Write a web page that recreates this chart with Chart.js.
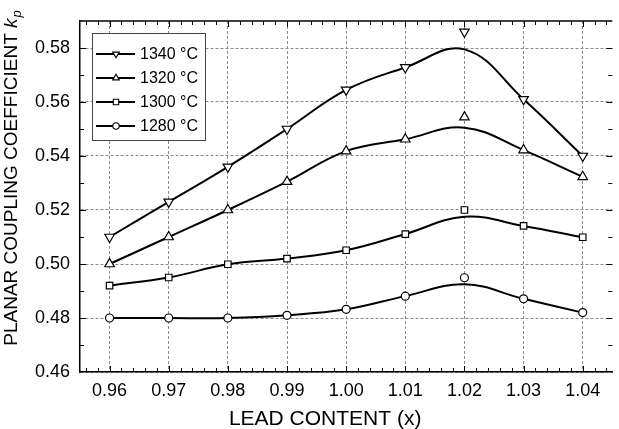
<!DOCTYPE html>
<html>
<head>
<meta charset="utf-8">
<script src="https://cdn.jsdelivr.net/npm/chart.js@4.4.1/dist/chart.umd.min.js"></script>
<style>
  html, body { margin: 0; padding: 0; background: #fff; }
  #wrap { width: 619px; height: 429px; }
</style>
</head>
<body>
<div id="wrap"><canvas id="graficoKp" width="619" height="429"></canvas></div>
<script>
// valores
var leadContent = [0.96, 0.97, 0.98, 0.99, 1.00, 1.01, 1.02, 1.03, 1.04];
var kp1340 = [0.510, 0.523, 0.536, 0.550, 0.5645, 0.5728, 0.586, 0.561, 0.540];
var kp1320 = [0.500, 0.510, 0.520, 0.5305, 0.5418, 0.5462, 0.5544, 0.5422, 0.5323];
var kp1300 = [0.492, 0.495, 0.4999, 0.502, 0.5051, 0.5111, 0.520, 0.5141, 0.5099];
var kp1280 = [0.480, 0.480, 0.480, 0.481, 0.4832, 0.4881, 0.4949, 0.4871, 0.482];

// curvas ajustadas (passam pelos pontos, exceto no pico)
var fit1340 = [0.510, 0.523, 0.536, 0.550, 0.5645, 0.5728, 0.5795, 0.561, 0.540];
var fit1320 = [0.500, 0.510, 0.520, 0.5305, 0.5418, 0.5462, 0.5505, 0.5422, 0.5323];
var fit1300 = [0.492, 0.495, 0.4999, 0.502, 0.5051, 0.5111, 0.5175, 0.5141, 0.5099];
var fit1280 = [0.480, 0.480, 0.480, 0.481, 0.4832, 0.4881, 0.4925, 0.4871, 0.482];

var seriesLabels = ['1340 \u00B0C', '1320 \u00B0C', '1300 \u00B0C', '1280 \u00B0C'];
var xTicks = [0.96, 0.97, 0.98, 0.99, 1.00, 1.01, 1.02, 1.03, 1.04];
var yTicks = [0.46, 0.48, 0.50, 0.52, 0.54, 0.56, 0.58];

var FONTE = '"Liberation Sans", Arial, Helvetica, sans-serif';

var series = [
    { label: seriesLabels[0], kp: kp1340, fit: fit1340, style: 'triangle', rot: 180, r: 5.5 },
    { label: seriesLabels[1], kp: kp1320, fit: fit1320, style: 'triangle', rot: 0, r: 5.5 },
    { label: seriesLabels[2], kp: kp1300, fit: fit1300, style: 'rect', rot: 0, r: 4.6 },
    { label: seriesLabels[3], kp: kp1280, fit: fit1280, style: 'circle', rot: 0, r: 4 }
];

function pontos(valores) {
    return leadContent.map(function(x, i) { return { x: x, y: valores[i] }; });
}

var datasets = [];
series.forEach(function(s) {
    // linha suave
    datasets.push({
        label: s.label + ' ajuste',
        data: pontos(s.fit),
        borderColor: '#000',
        borderWidth: 2,
        pointRadius: 0,
        tension: 0.4,
        fill: false,
        order: 2
    });
    // marcadores
    datasets.push({
        label: s.label,
        data: pontos(s.kp),
        showLine: false,
        pointStyle: s.style,
        pointRotation: s.rot,
        pointRadius: s.r,
        pointBackgroundColor: '#fff',
        pointBorderColor: '#000',
        pointBorderWidth: 1.2,
        order: 1
    });
});

// desenha um marcador pequeno na legenda
function marcador(ctx, estilo, rot, x, y, r) {
    ctx.beginPath();
    if (estilo === 'circle') {
        ctx.arc(x, y, r, 0, Math.PI * 2);
    } else if (estilo === 'rect') {
        var h = r * Math.SQRT1_2;
        ctx.rect(x - h, y - h, 2 * h, 2 * h);
    } else {
        var a = rot * Math.PI / 180;
        for (var k = 0; k < 3; k++) {
            var px = x + Math.sin(a) * r, py = y - Math.cos(a) * r;
            if (k === 0) ctx.moveTo(px, py); else ctx.lineTo(px, py);
            a += 2 * Math.PI / 3;
        }
    }
    ctx.closePath();
    ctx.fillStyle = '#fff';
    ctx.fill();
    ctx.stroke();
}

var molduraPlugin = {
    id: 'moldura',
    afterDraw: function(chart) {
        var ctx = chart.ctx, area = chart.chartArea;
        var xs = chart.scales.x, ys = chart.scales.y;
        ctx.save();

        // borda de cima
        ctx.strokeStyle = '#000';
        ctx.lineWidth = 1.5;
        ctx.beginPath();
        ctx.moveTo(area.left, area.top);
        ctx.lineTo(area.right, area.top);
        ctx.stroke();

        // marcas para dentro (eixo x, a cada 0.002)
        ctx.lineWidth = 1;
        for (var i = 478; i <= 522; i++) {
            var px = Math.round(xs.getPixelForValue(i / 500)) + 0.5;
            var len = (i % 5 === 0) ? 6 : 4;
            ctx.beginPath();
            ctx.moveTo(px, area.bottom); ctx.lineTo(px, area.bottom - len);
            ctx.moveTo(px, area.top); ctx.lineTo(px, area.top + len);
            ctx.stroke();
        }
        // eixo y, a cada 0.01
        for (var j = 47; j <= 58; j++) {
            var py = Math.round(ys.getPixelForValue(j / 100)) + 0.5;
            var lenY = (j % 2 === 0) ? 6 : 4;
            ctx.beginPath();
            ctx.moveTo(area.left, py); ctx.lineTo(area.left + lenY, py);
            ctx.moveTo(area.right, py); ctx.lineTo(area.right - lenY, py);
            ctx.stroke();
        }

        // título do eixo x
        ctx.fillStyle = '#000';
        ctx.font = '21px ' + FONTE;
        ctx.textAlign = 'center';
        ctx.textBaseline = 'alphabetic';
        ctx.fillText('LEAD CONTENT (x)', (area.left + area.right) / 2 - 21, 425);

        // título do eixo y com k_p
        var t1 = 'PLANAR COUPLING COEFFICIENT ';
        ctx.font = '19px ' + FONTE;
        var w1 = ctx.measureText(t1).width;
        ctx.font = 'italic 19px ' + FONTE;
        var w2 = ctx.measureText('k').width;
        ctx.font = 'italic 13px ' + FONTE;
        var w3 = ctx.measureText('p').width;
        var total = w1 + w2 + w3 + 1;
        ctx.translate(17, 178);
        ctx.rotate(-Math.PI / 2);
        ctx.textAlign = 'left';
        ctx.font = '19px ' + FONTE;
        ctx.fillText(t1, -total / 2, 0);
        ctx.font = 'italic 19px ' + FONTE;
        ctx.fillText('k', -total / 2 + w1, 0);
        ctx.font = 'italic 13px ' + FONTE;
        ctx.fillText('p', -total / 2 + w1 + w2 + 1, 4);
        ctx.setTransform(1, 0, 0, 1, 0, 0);

        // legenda
        ctx.fillStyle = '#fff';
        ctx.fillRect(92.5, 33.5, 113, 107);
        ctx.strokeStyle = '#444';
        ctx.lineWidth = 1;
        ctx.strokeRect(92.5, 33.5, 113, 107);
        ctx.font = '16px ' + FONTE;
        ctx.textBaseline = 'middle';
        series.forEach(function(s, k) {
            var y = 54 + k * 24;
            ctx.strokeStyle = '#000';
            ctx.lineWidth = 2;
            ctx.beginPath();
            ctx.moveTo(96, y); ctx.lineTo(135, y);
            ctx.stroke();
            ctx.lineWidth = 1.1;
            marcador(ctx, s.style, s.rot, 116, y, s.style === 'circle' ? 3.2 : 3.8);
            ctx.fillStyle = '#000';
            ctx.fillText(s.label, 140, y + 1);
        });
        ctx.restore();
    }
};

var ctx = document.getElementById('graficoKp').getContext('2d');
var kpChart = new Chart(ctx, {
    type: 'line',
    data: { datasets: datasets },
    options: {
        responsive: false,
        animation: false,
        layout: { padding: { top: 21, right: 0, left: 0, bottom: 0 } },
        plugins: {
            legend: { display: false },
            tooltip: { enabled: false }
        },
        scales: {
            x: {
                type: 'linear',
                min: 0.955,
                max: 1.045,
                afterBuildTicks: function(s) { s.ticks = xTicks.map(function(v) { return { value: v }; }); },
                afterFit: function(s) { s.height = 57; },
                grid: { color: '#8a8a8a', lineWidth: 1, drawTicks: false },
                border: { color: '#000', width: 1.5, dash: [3, 2] },
                ticks: {
                    color: '#000',
                    padding: 8,
                    maxRotation: 0,
                    font: { family: FONTE, size: 18 },
                    callback: function(v) { return v.toFixed(2); }
                }
            },
            y: {
                min: 0.46,
                max: 0.59,
                afterBuildTicks: function(s) { s.ticks = yTicks.map(function(v) { return { value: v }; }); },
                afterFit: function(s) { s.width = 80; },
                grid: { color: '#8a8a8a', lineWidth: 1, drawTicks: false },
                border: { color: '#000', width: 1.5, dash: [3, 2] },
                ticks: {
                    color: '#000',
                    padding: 10,
                    font: { family: FONTE, size: 18 },
                    callback: function(v) { return v.toFixed(2); }
                }
            }
        }
    },
    plugins: [molduraPlugin]
});
</script>
</body>
</html>
